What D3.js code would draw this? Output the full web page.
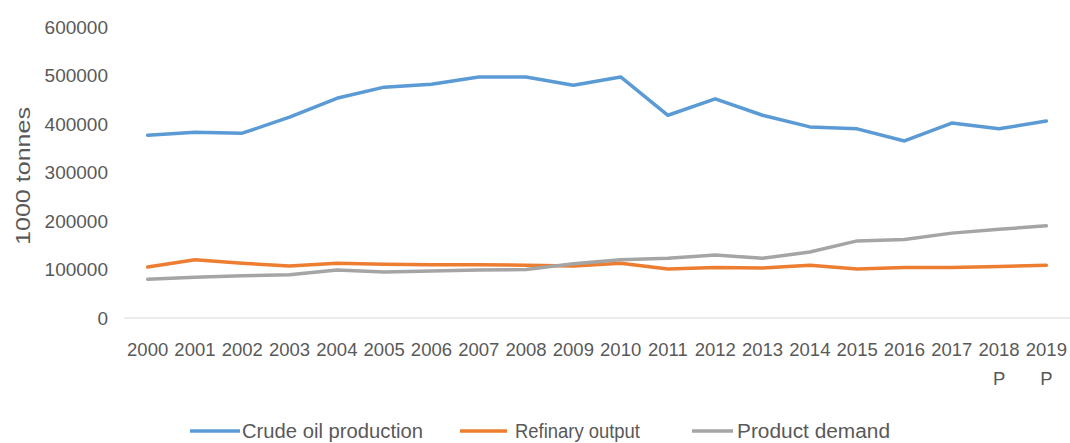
<!DOCTYPE html>
<html>
<head>
<meta charset="utf-8">
<script src="https://cdn.jsdelivr.net/npm/d3@7"></script>
<style>
  body { margin: 0; background: #fff; }
  text { font-family: "Liberation Sans", Arial, sans-serif; fill: #595959; }
</style>
</head>
<body>
<svg width="1070" height="443"></svg>
<script>
// chart data
let years = ["2000","2001","2002","2003","2004","2005","2006","2007","2008","2009",
             "2010","2011","2012","2013","2014","2015","2016","2017","2018","2019"];
let yearNotes = {"2018": "P", "2019": "P"};
let crudeOil = [377000,383000,381000,414000,453000,476000,482000,497000,497000,480000,
                497000,418000,452000,418000,394000,390000,365000,402000,390000,406000];
let refinery = [105000,120000,113000,107000,113000,111000,110000,110000,109000,107000,
                113000,101000,104000,103000,109000,101000,104000,104000,106000,109000];
let demand = [80000,84000,87000,89000,99000,95000,97000,99000,100000,112000,
              120000,123000,130000,123000,136000,159000,162000,175000,183000,190000];
let yTicks = [0,100000,200000,300000,400000,500000,600000];

let series = [
    {name: "Crude oil production", values: crudeOil, color: "#5B9BD5"},
    {name: "Refinary output", values: refinery, color: "#ED7D31"},
    {name: "Product demand", values: demand, color: "#A5A5A5"}
];

let svg = d3.select("svg");

let x = d3.scaleBand().domain(years).range([124, 1070]);
let y = d3.scaleLinear().domain([0, 600000]).range([318, 27]);

// baseline
svg.append("line")
    .attr("x1", 124).attr("x2", 1070)
    .attr("y1", y(0)).attr("y2", y(0))
    .attr("stroke", "#d9d9d9").attr("stroke-width", 1);

// y tick labels
svg.selectAll(".ytick").data(yTicks).enter().append("text")
    .attr("class", "ytick")
    .attr("x", 108)
    .attr("y", d => y(d))
    .attr("dy", "0.35em")
    .attr("text-anchor", "end")
    .style("font-size", "19px")
    .text(d => d);

// y title
svg.append("text")
    .attr("transform", "translate(23,176) rotate(-90)")
    .attr("x", -69)
    .attr("dy", "0.35em")
    .attr("textLength", 138)
    .attr("lengthAdjust", "spacingAndGlyphs")
    .style("font-size", "20px")
    .text("1000 tonnes");

// x labels
svg.selectAll(".xtick").data(years).enter().append("text")
    .attr("class", "xtick")
    .attr("x", d => x(d) + x.bandwidth() / 2)
    .attr("y", 350)
    .attr("dy", "0.35em")
    .attr("text-anchor", "middle")
    .style("font-size", "18.5px")
    .text(d => d);

svg.selectAll(".xnote").data(years.filter(d => yearNotes[d])).enter().append("text")
    .attr("class", "xnote")
    .attr("x", d => x(d) + x.bandwidth() / 2)
    .attr("y", 379)
    .attr("dy", "0.35em")
    .attr("text-anchor", "middle")
    .style("font-size", "18.5px")
    .text(d => yearNotes[d]);

// lines
let line = d3.line()
    .x((d, i) => x(years[i]) + x.bandwidth() / 2)
    .y(d => y(d));

svg.selectAll(".series").data(series).enter().append("path")
    .attr("class", "series")
    .attr("fill", "none")
    .attr("stroke", d => d.color)
    .attr("stroke-width", 3.5)
    .attr("stroke-linejoin", "round")
    .attr("stroke-linecap", "round")
    .attr("d", d => line(d.values));

// legend
let legendX = [190, 460, 692];
let legendLine = [50, 47, 41];
let legendTextX = [52, 55, 45];
let legendW = [181, 125, 153];
let leg = svg.selectAll(".legend").data(series).enter().append("g")
    .attr("class", "legend")
    .attr("transform", (d, i) => "translate(" + legendX[i] + ",431)");
leg.append("line")
    .attr("x1", 0).attr("x2", (d, i) => legendLine[i])
    .attr("stroke", d => d.color)
    .attr("stroke-width", 3.5);
leg.append("text")
    .attr("x", (d, i) => legendTextX[i])
    .attr("dy", "0.35em")
    .attr("textLength", (d, i) => legendW[i])
    .attr("lengthAdjust", "spacingAndGlyphs")
    .style("font-size", "20px")
    .text(d => d.name);
</script>
</body>
</html>
